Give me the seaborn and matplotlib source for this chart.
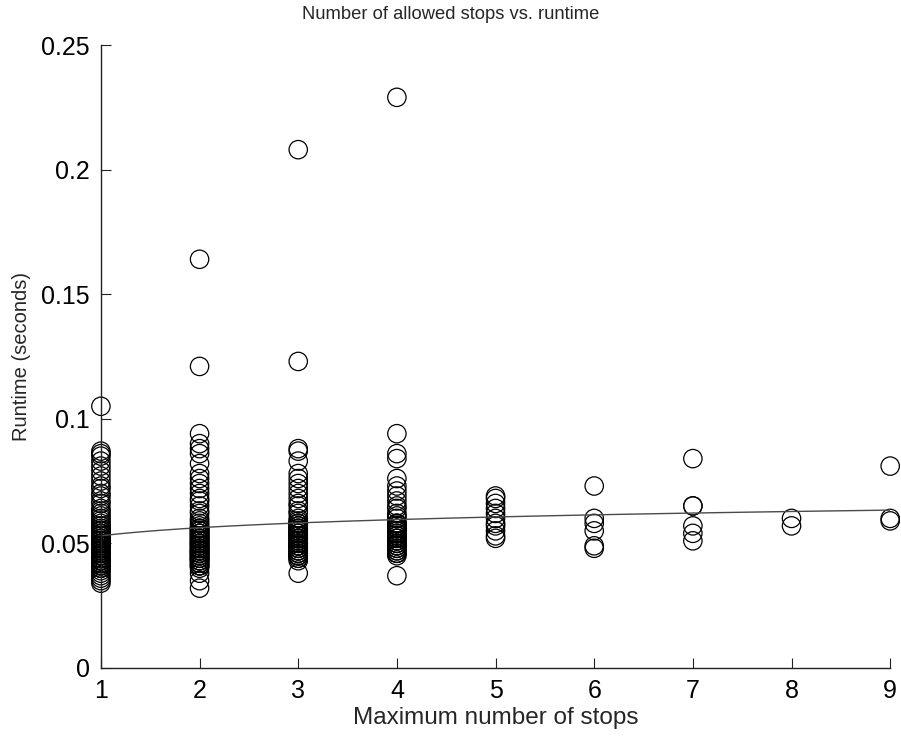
import numpy as np
import pandas as pd
import matplotlib
matplotlib.use("Agg")
import matplotlib.pyplot as plt
import seaborn as sns

# Runtime (seconds) measured for each maximum number of stops
runtime_1 = [0.105, 0.087, 0.086, 0.085, 0.083, 0.081, 0.079, 0.077, 0.075, 0.073,
             0.072, 0.070, 0.069, 0.067, 0.066, 0.064, 0.063, 0.062, 0.061, 0.060,
             0.059, 0.058, 0.057, 0.057, 0.056, 0.055, 0.055, 0.054, 0.053, 0.053,
             0.052, 0.051, 0.051, 0.050, 0.050, 0.049, 0.049, 0.048, 0.048, 0.047,
             0.047, 0.046, 0.046, 0.045, 0.045, 0.044, 0.044, 0.043, 0.043, 0.042,
             0.042, 0.041, 0.040, 0.039, 0.038, 0.037, 0.036, 0.035, 0.034,
             0.040, 0.041, 0.042, 0.043, 0.044, 0.045, 0.046, 0.047, 0.048, 0.049,
             0.050, 0.051, 0.052, 0.053, 0.054, 0.055, 0.040, 0.041, 0.042, 0.043,
             0.044, 0.045, 0.046, 0.047, 0.048, 0.049, 0.050, 0.051, 0.052, 0.053,
             0.054, 0.055, 0.046, 0.048, 0.044, 0.045]
runtime_2 = [0.164, 0.121, 0.094, 0.090, 0.088, 0.086, 0.082, 0.078, 0.076, 0.074,
             0.072, 0.070, 0.068, 0.067, 0.065, 0.063, 0.062, 0.060, 0.059, 0.058,
             0.057, 0.056, 0.055, 0.054, 0.053, 0.052, 0.051, 0.050, 0.049, 0.048,
             0.047, 0.046, 0.045, 0.044, 0.043, 0.041, 0.040, 0.038, 0.035, 0.032,
             0.041, 0.042, 0.043, 0.044, 0.045, 0.046, 0.047, 0.048, 0.049, 0.050,
             0.051, 0.052, 0.053, 0.054, 0.055, 0.056, 0.041, 0.042, 0.043, 0.044,
             0.045, 0.046, 0.047, 0.048, 0.049, 0.050, 0.051, 0.052, 0.053, 0.054,
             0.055, 0.056, 0.044, 0.046, 0.047, 0.050]
runtime_3 = [0.208, 0.123, 0.088, 0.087, 0.083, 0.078, 0.076, 0.074, 0.072, 0.070,
             0.068, 0.066, 0.065, 0.063, 0.062, 0.060, 0.059, 0.058, 0.057, 0.056,
             0.055, 0.054, 0.053, 0.052, 0.051, 0.050, 0.049, 0.048, 0.047, 0.045,
             0.043, 0.038,
             0.044, 0.045, 0.046, 0.047, 0.048, 0.049, 0.050, 0.051, 0.052, 0.053,
             0.054, 0.055, 0.056, 0.057, 0.058, 0.044, 0.045, 0.046, 0.047, 0.048,
             0.049, 0.050, 0.051, 0.052, 0.053, 0.054, 0.055, 0.056, 0.057, 0.058,
             0.046, 0.048, 0.049, 0.050, 0.052, 0.053]
runtime_4 = [0.229, 0.094, 0.086, 0.084, 0.076, 0.073, 0.071, 0.069, 0.067, 0.065,
             0.064, 0.062, 0.061, 0.060, 0.058, 0.057, 0.056, 0.055, 0.053, 0.052,
             0.051, 0.050, 0.049, 0.048, 0.046, 0.045, 0.037,
             0.046, 0.047, 0.048, 0.049, 0.050, 0.051, 0.052, 0.053, 0.054, 0.055,
             0.056, 0.057, 0.058, 0.046, 0.047, 0.048, 0.049, 0.050, 0.051, 0.052,
             0.053, 0.054, 0.055, 0.056, 0.057, 0.058, 0.050]
runtime_5 = [0.069, 0.068, 0.066, 0.064, 0.062, 0.060, 0.058, 0.057, 0.055, 0.053, 0.052]
runtime_6 = [0.073, 0.060, 0.058, 0.055, 0.049, 0.048]
runtime_7 = [0.084, 0.065, 0.065, 0.057, 0.054, 0.051]
runtime_8 = [0.060, 0.057]
runtime_9 = [0.081, 0.060, 0.059]

max_stops = [1, 2, 3, 4, 5, 6, 7, 8, 9]
runtimes = [runtime_1, runtime_2, runtime_3, runtime_4, runtime_5,
            runtime_6, runtime_7, runtime_8, runtime_9]
y_ticks = [0, 0.05, 0.1, 0.15, 0.2, 0.25]
y_tick_labels = ["0", "0.05", "0.1", "0.15", "0.2", "0.25"]

df = pd.DataFrame({
    "stops": np.concatenate([[s] * len(r) for s, r in zip(max_stops, runtimes)]),
    "runtime": np.concatenate(runtimes),
})

sns.set_style("white")
plt.rcParams["font.family"] = ["Liberation Sans", "DejaVu Sans"]

fig = plt.figure(figsize=(9.01, 7.38), dpi=100)
ax = fig.add_axes([0.112, 0.095, 0.876, 0.844])

sns.scatterplot(data=df, x="stops", y="runtime", ax=ax, marker="o", s=175,
                facecolor="none", edgecolor="black", linewidth=0.9, legend=False)
# logarithmic trend line through all measurements
sns.regplot(data=df, x="stops", y="runtime", ax=ax, logx=True, ci=None,
            scatter=False, line_kws={"color": "#4a4a4a", "linewidth": 1.0})

ax.set_xlim(1, 9)
ax.set_ylim(0, 0.25)
ax.set_xticks(max_stops)
ax.set_xticklabels([str(s) for s in max_stops])
ax.set_yticks(y_ticks)
ax.set_yticklabels(y_tick_labels)

for side in ("top", "right"):
    ax.spines[side].set_visible(False)
for side in ("left", "bottom"):
    ax.spines[side].set_color("#222222")
    ax.spines[side].set_linewidth(1.0)

ax.tick_params(axis="both", direction="in", length=7, width=0.8, colors="#222222",
               labelsize=18, labelcolor="black", pad=8, left=True, bottom=True)

ax.set_xlabel("Maximum number of stops", fontsize=17.5)
ax.xaxis.set_label_coords(0.5, -0.062)
ax.set_ylabel("Runtime (seconds)", fontsize=14.5)
ax.yaxis.set_label_coords(-0.088, 0.5)
fig.text(0.5, 0.981, "Number of allowed stops vs. runtime", ha="center", va="center",
         fontsize=13.2)

for coll in ax.collections:
    coll.set_clip_on(False)

fig.savefig("out.png", dpi=100)
